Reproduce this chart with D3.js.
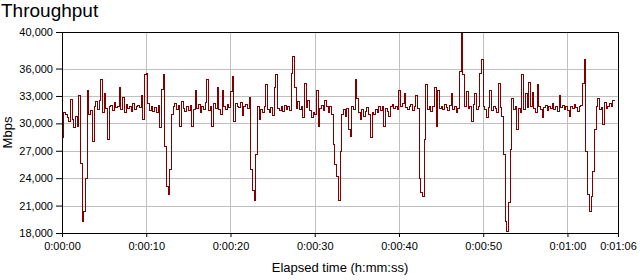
<!DOCTYPE html>
<html>
<head>
<meta charset="utf-8">
<script src="https://cdn.jsdelivr.net/npm/d3@7"></script>
<style>
  body { margin: 0; background: #fff; }
  text { font-family: Arial, "Liberation Sans", sans-serif; fill: #000; }
</style>
</head>
<body>
<svg id="chart" width="640" height="280"></svg>
<script>
const WIDTH = 640;
const HEIGHT = 280;
const MARGIN = {top: 32, right: 22, bottom: 47, left: 62};

// one reading every 0.2 s
const sampleStep = 0.2;
const throughput = [
  28500, 31200, 31000, 30600, 30200,
  32600, 30400, 29600, 30800, 29700,
  33100, 25600, 19300, 20400, 24000,
  33600, 31000, 31400, 28000, 31800,
  32400, 31500, 32500, 34800, 31200,
  33300, 31600, 28200, 31800, 32000,
  31400, 32300, 31700, 31900, 33900,
  31500, 32800, 31200, 32100, 31600,
  31800, 31300, 32200, 31500, 31900,
  32000, 31700, 33000, 30400, 35300,
  35500, 32200, 31400, 31800, 31300,
  31700, 31200, 32000, 29500, 33700,
  35300, 27500, 23100, 22200, 24900,
  31000, 31800, 32200, 31500, 32000,
  29700, 32400, 31600, 31300, 31800,
  31400, 32000, 29700, 31500, 33600,
  31600, 32100, 31200, 31800, 31500,
  32300, 34800, 31400, 31900, 29700,
  32200, 31600, 33900, 31500, 31000,
  33600, 31800, 31500, 32100, 31700,
  33500, 35100, 30200, 32200, 31800,
  31700, 32300, 30900, 31900, 32100,
  31600, 32800, 24900, 22700, 21600,
  26600, 31800, 30400, 31500, 31200,
  31800, 34200, 31500, 31200, 31700,
  30900, 33900, 35300, 31600, 31400,
  31900, 31300, 32000, 31500, 31800,
  31400, 35500, 37300, 33900, 31600,
  32400, 31500, 31800, 30600, 34400,
  31700, 32500, 31400, 30600, 31200,
  31000, 33600, 29700, 31600, 32000,
  31400, 32500, 31800, 31200, 31900,
  31000, 27700, 25500, 24200, 21600,
  26900, 31000, 31500, 30800, 31600,
  29300, 28600, 31800, 31500, 34800,
  32700, 31200, 30400, 31500, 30800,
  31300, 31700, 31000, 28400, 31200,
  31000, 31500, 31200, 31800, 31400,
  31800, 29700, 31600, 31300, 30800,
  31800, 32100, 31600, 31900, 31500,
  33600, 31800, 32200, 33300, 31700,
  31500, 31900, 32100, 31400, 31800,
  33100, 31600, 24000, 22400, 22000,
  28200, 34200, 31500, 31900, 31300,
  31800, 33900, 29700, 33600, 31600,
  31900, 31500, 32100, 31700, 31400,
  32000, 33300, 31500, 31800, 31200,
  31600, 35700, 39800, 35300, 31800,
  33500, 31600, 31900, 30200, 32100,
  33300, 31500, 31800, 35500, 37000,
  31800, 31500, 30600, 31700, 33600,
  31400, 31900, 31600, 31200, 34400,
  31700, 30800, 26600, 19300, 18200,
  21300, 27100, 32700, 31500, 31900,
  29300, 31600, 31200, 35300, 31500,
  33300, 31700, 34500, 31900, 33400,
  31600, 31200, 34200, 31800, 31500,
  30600, 31700, 32000, 31400, 31800,
  31600, 32200, 31500, 31900, 31300,
  33100, 31700, 32000, 31500, 31800,
  31400, 30800, 31900, 31600, 32100,
  31700, 31300, 31800, 32000, 34400,
  37000, 26900, 22200, 20400, 22000,
  24700, 29300, 31800, 32700, 31500,
  31700, 29900, 32300, 31600, 31900,
  32200, 31800, 32500, 32500
];

const yTicks = [18000, 21000, 24000, 27000, 30000, 33000, 36000, 40000];
const xTicks = [0, 10, 20, 30, 40, 50, 60, 66];
const yDomain = [18000, 40000];
const xDomain = [0, 66];

const svg = d3.select("#chart");
const plotW = WIDTH - MARGIN.left - MARGIN.right;
const plotH = HEIGHT - MARGIN.top - MARGIN.bottom;

const x = d3.scaleLinear().domain(xDomain).range([MARGIN.left, MARGIN.left + plotW]);
const y = d3.scaleLinear().domain(yDomain).range([MARGIN.top + plotH, MARGIN.top]);

function fmtTime(s){
  const m = Math.floor(s / 60), sec = s % 60;
  return "0:" + String(m).padStart(2, "0") + ":" + String(sec).padStart(2, "0");
}

// gridlines
svg.append("g").selectAll("line")
  .data(yTicks.slice(1, -1))
  .join("line")
  .attr("x1", MARGIN.left).attr("x2", MARGIN.left + plotW)
  .attr("y1", d => Math.round(y(d)) + 0.5).attr("y2", d => Math.round(y(d)) + 0.5)
  .attr("stroke", "#c0c0c0");
svg.append("g").selectAll("line")
  .data(xTicks.slice(1, -1))
  .join("line")
  .attr("y1", MARGIN.top).attr("y2", MARGIN.top + plotH)
  .attr("x1", d => Math.round(x(d)) + 0.5).attr("x2", d => Math.round(x(d)) + 0.5)
  .attr("stroke", "#c0c0c0");

// the series, drawn as steps with hard pixel edges
const line = d3.line()
  .x((d, i) => x(i * sampleStep))
  .y(d => y(d))
  .curve(d3.curveStepAfter);
svg.append("path")
  .datum(throughput)
  .attr("d", line)
  .attr("fill", "none")
  .attr("stroke", "#800000")
  .attr("stroke-width", 1)
  .attr("shape-rendering", "crispEdges");

// frame top and right
svg.append("line")
  .attr("x1", MARGIN.left).attr("x2", MARGIN.left + plotW + 0.5)
  .attr("y1", MARGIN.top + 0.5).attr("y2", MARGIN.top + 0.5)
  .attr("stroke", "#000");
svg.append("line")
  .attr("x1", MARGIN.left + plotW + 0.5).attr("x2", MARGIN.left + plotW + 0.5)
  .attr("y1", MARGIN.top).attr("y2", MARGIN.top + plotH)
  .attr("stroke", "#000");

// axes
const yAxis = d3.axisLeft(y).tickValues(yTicks).tickFormat(d3.format(",")).tickSize(6).tickPadding(3).offset(0.5);
const gy = svg.append("g").attr("transform", "translate(" + MARGIN.left + ",0)").call(yAxis);
gy.select(".domain").attr("d", "M0.5," + MARGIN.top + "V" + (MARGIN.top + plotH + 1));
gy.selectAll("text").style("font-size", "11px");

const xAxis = d3.axisBottom(x).tickValues(xTicks).tickFormat(fmtTime).tickSize(4).tickPadding(5).offset(0.5);
const gx = svg.append("g").attr("transform", "translate(0," + (MARGIN.top + plotH) + ")").call(xAxis);
gx.select(".domain").attr("d", "M" + MARGIN.left + ",0.5H" + (MARGIN.left + plotW + 1));
gx.selectAll("text").style("font-size", "11px");

// titles
svg.append("text").attr("x", 1).attr("y", 17).style("font-size", "19px").text("Throughput");
svg.append("text")
  .attr("transform", "translate(12," + (MARGIN.top + plotH / 2) + ") rotate(-90)")
  .attr("text-anchor", "middle")
  .style("font-size", "13px")
  .text("Mbps");
svg.append("text")
  .attr("x", MARGIN.left + plotW / 2).attr("y", 272)
  .attr("text-anchor", "middle")
  .style("font-size", "13px")
  .text("Elapsed time (h:mm:ss)");
</script>
</body>
</html>
